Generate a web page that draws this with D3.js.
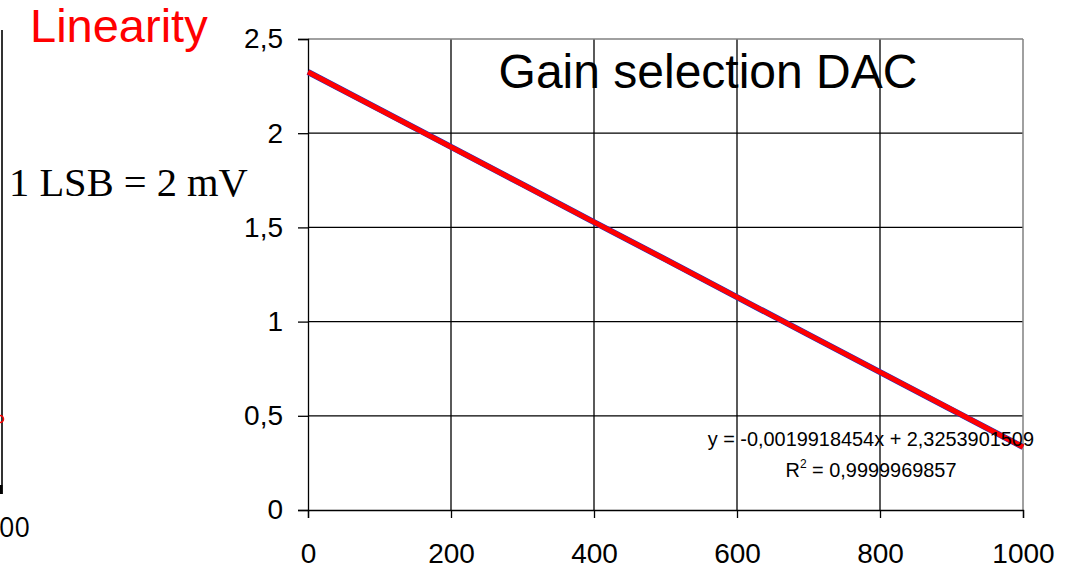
<!DOCTYPE html>
<html>
<head>
<meta charset="utf-8">
<script src="https://cdn.jsdelivr.net/npm/d3@7"></script>
<style>
  body { margin: 0; background: #fff; }
</style>
</head>
<body>
<div id="chart"></div>
<script>
// DAC code vs measured voltage
const dacCodes = [0, 100, 200, 300, 400, 500, 600, 700, 800, 900, 1000];
const voltages = [2.325, 2.126, 1.927, 1.728, 1.528, 1.330, 1.130, 0.931, 0.732, 0.533, 0.334];
const xTicks = [0, 200, 400, 600, 800, 1000];
const yTicks = [0, 0.5, 1, 1.5, 2, 2.5];

const width = 1068, height = 577;
const sans = '"Liberation Sans", Arial, sans-serif';
const svg = d3.select('#chart').append('svg')
  .attr('width', width)
  .attr('height', height)
  .attr('font-family', sans);

const x = d3.scaleLinear().domain([0, 1000]).range([308, 1023]);
const y = d3.scaleLinear().domain([0, 2.5]).range([510, 39]);
const fmt = d => String(d).replace('.', ',');

// grid
svg.append('g')
  .selectAll('line')
  .data(yTicks.slice(1, -1))
  .join('line')
  .attr('x1', x(0)).attr('x2', x(1000))
  .attr('y1', d => y(d)).attr('y2', d => y(d))
  .attr('stroke', '#000').attr('stroke-width', 1.3);
svg.append('g')
  .selectAll('line')
  .data(xTicks.slice(1, -1))
  .join('line')
  .attr('x1', d => x(d)).attr('x2', d => x(d))
  .attr('y1', y(2.5)).attr('y2', y(0))
  .attr('stroke', '#000').attr('stroke-width', 1.3);

// plot frame (top/right grey)
svg.append('line').attr('x1', x(0)).attr('x2', x(1000)).attr('y1', y(2.5)).attr('y2', y(2.5))
  .attr('stroke', '#808080').attr('stroke-width', 1.5);
svg.append('line').attr('x1', x(1000)).attr('x2', x(1000)).attr('y1', y(2.5)).attr('y2', y(0))
  .attr('stroke', '#808080').attr('stroke-width', 1.5);

// axes
const xAxis = d3.axisBottom(x).tickValues(xTicks).tickSize(8).tickPadding(25).tickFormat(fmt);
const yAxis = d3.axisLeft(y).tickValues(yTicks).tickSize(10).tickPadding(15).tickFormat(fmt);
const styleAxis = g => g
  .call(g => g.select('.domain').attr('stroke-width', 1.3))
  .call(g => g.selectAll('.tick line').attr('stroke-width', 1.3))
  .call(g => g.selectAll('text').attr('font-size', 28).attr('font-family', sans));
svg.append('g').attr('transform', `translate(0,${y(0)})`).call(xAxis).call(styleAxis);
svg.append('g').attr('transform', `translate(${x(0)},0)`).call(yAxis).call(styleAxis);

// data line
const line = d3.line().x((d, i) => x(dacCodes[i])).y(d => y(d));
svg.append('path').datum(voltages)
  .attr('fill', 'none').attr('stroke', '#2030c0').attr('stroke-width', 6)
  .attr('d', line);
svg.append('path').datum(voltages)
  .attr('fill', 'none').attr('stroke', '#ff0000').attr('stroke-width', 5)
  .attr('d', line);

// titles
svg.append('text').attr('x', 708).attr('y', 88).attr('text-anchor', 'middle')
  .attr('font-size', 48).text('Gain selection DAC');

// trendline label
svg.append('text').attr('x', 1034).attr('y', 446).attr('text-anchor', 'end')
  .attr('font-size', 19.9).text('y = -0,0019918454x + 2,3253901509');
const r2 = svg.append('text').attr('x', 871).attr('y', 477).attr('text-anchor', 'middle')
  .attr('font-size', 19.9);
r2.append('tspan').text('R');
r2.append('tspan').attr('dy', -9).attr('font-size', 12).text('2');
r2.append('tspan').attr('dy', 9).text(' = 0,9999969857');

// fragments of the neighbouring chart on the left
svg.append('text').attr('x', 30).attr('y', 42).attr('fill', '#ff0000')
  .attr('font-size', 47).text('Linearity');
svg.append('text').attr('x', 9).attr('y', 196)
  .attr('font-family', '"Liberation Serif", "Times New Roman", serif')
  .attr('font-size', 40.5).text('1 LSB = 2 mV');
svg.append('line').attr('x1', 2).attr('x2', 2).attr('y1', 30).attr('y2', 494)
  .attr('stroke', '#333').attr('stroke-width', 2);
svg.append('line').attr('x1', 1).attr('x2', 1).attr('y1', 485).attr('y2', 494)
  .attr('stroke', '#000').attr('stroke-width', 3);
svg.append('circle').attr('cx', 0).attr('cy', 419).attr('r', 3.5)
  .attr('fill', 'none').attr('stroke', '#ff0000').attr('stroke-width', 1.5);
svg.append('text').attr('x', -1).attr('y', 537)
  .attr('font-family', '"Open Sans", sans-serif')
  .attr('font-size', 27).text('00');
</script>
</body>
</html>
